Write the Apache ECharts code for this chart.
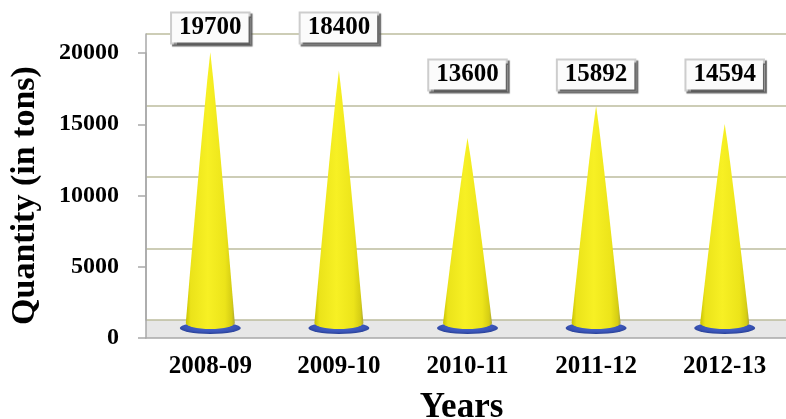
<!DOCTYPE html>
<html>
<head>
<meta charset="utf-8">
<script src="https://cdn.jsdelivr.net/npm/echarts@6/dist/echarts.min.js"></script>
<style>
html,body{margin:0;padding:0;background:#fff;}
#c{width:786px;height:419px;}
</style>
</head>
<body>
<div id="c"></div>
<script>
// ---- data ----
const categories = ['2008-09', '2009-10', '2010-11', '2011-12', '2012-13'];
const quantities = [19700, 18400, 13600, 15892, 14594];
const yMin = 0, yMax = 20000, yInterval = 5000;
const xTitle = 'Years';
const yTitle = 'Quantity (in tons)';

// ---- layout / styles ----
const FONT = '"Liberation Serif", "Times New Roman", serif';
const labelRowY = [28, 28, 75, 75, 75];
const gridLeft = 146, gridWidth = 643;
const BASE_CURVE_PX = 6;

// cone outline (symbol shape): near-straight sides and an elliptical base
// heightPx: pixel height of the bar, so the base curve keeps a fixed pixel depth
function conePath(heightPx) {
  const depth = heightPx ? 100 * BASE_CURVE_PX / heightPx : 2;
  const sideEnd = 100 - depth, steps = 10;
  const pts = [];
  for (let k = 0; k <= steps; k++) {
    const t = k / steps;
    pts.push([50 + 50 * Math.pow(t, 0.92), sideEnd * t]);
  }
  for (let k = 1; k < 16; k++) {
    const a = Math.PI * k / 16;
    pts.push([50 + 50 * Math.cos(a), sideEnd + depth * Math.sin(a)]);
  }
  for (let k = steps; k >= 1; k--) {
    const t = k / steps;
    pts.push([50 - 50 * Math.pow(t, 0.92), sideEnd * t]);
  }
  return 'path://M' + pts.map(p => p[0].toFixed(3) + ',' + p[1].toFixed(3)).join(' L') + ' Z';
}

const chart = echarts.init(document.getElementById('c'), null, {renderer: 'canvas'});

const coneGradient = new echarts.graphic.LinearGradient(0, 0, 1, 0, [
  {offset: 0, color: '#c9c200'},
  {offset: 0.1, color: '#ebe31a'},
  {offset: 0.45, color: '#f7f024'},
  {offset: 0.8, color: '#ece41a'},
  {offset: 0.94, color: '#d6ce14'},
  {offset: 1, color: '#aaa53a'}
]);
const baseGradient = new echarts.graphic.RadialGradient(0.5, 0.4, 0.6, [
  {offset: 0, color: '#4d6ad0'},
  {offset: 0.7, color: '#3a55b8'},
  {offset: 1, color: '#263d92'}
]);

const boxLabel = {
  show: true,
  fontFamily: FONT,
  fontWeight: 'bold',
  fontSize: 25,
  lineHeight: 25,
  color: '#000',
  backgroundColor: '#fbfbfb',
  borderColor: '#cdcdcd',
  borderWidth: 2,
  padding: [2, 7, 2, 7],
  shadowColor: 'rgba(80,80,80,0.85)',
  shadowOffsetX: 2,
  shadowOffsetY: 2,
  shadowBlur: 1,
  align: 'center',
  verticalAlign: 'middle',
  formatter: p => String(p.value)
};

function buildOption(geom) {
  return {
    animation: false,
    backgroundColor: '#fff',
    grid: [
      // 0: front axis (labels)
      {left: gridLeft, width: gridWidth, top: 53, height: 285, outerBoundsMode: 'none', containLabel: false},
      // 1: back wall
      {left: gridLeft, width: gridWidth, top: 34, height: 286, outerBoundsMode: 'none'},
      // 2: cones (mid depth)
      {left: gridLeft, width: gridWidth, top: 48, height: 281, outerBoundsMode: 'none'},
      // 3: floor
      {left: gridLeft, width: gridWidth, top: 320, height: 18, show: true, backgroundColor: '#e7e7e7', borderWidth: 0, outerBoundsMode: 'none'}
    ],
    xAxis: [
      {
        gridIndex: 0, type: 'category', data: categories,
        axisLine: {show: true, lineStyle: {color: '#a9a9a9', width: 1.5}},
        axisTick: {show: false},
        axisLabel: {fontFamily: FONT, fontWeight: 'bold', fontSize: 25, color: '#000', margin: 16},
        name: xTitle, nameLocation: 'middle', nameGap: 52,
        nameTextStyle: {fontFamily: FONT, fontWeight: 'bold', fontSize: 35, color: '#000', padding: [0, 12, 0, 0]}
      },
      {gridIndex: 1, type: 'category', data: categories, show: false},
      {gridIndex: 2, type: 'category', data: categories, show: false},
      {gridIndex: 3, type: 'category', data: categories, show: false}
    ],
    yAxis: [
      {
        gridIndex: 0, type: 'value', min: yMin, max: yMax, interval: yInterval,
        axisLine: {show: true, lineStyle: {color: '#a9a9a9', width: 1.5}},
        axisTick: {show: true, length: 8, lineStyle: {color: '#a9a9a9', width: 1.5}},
        splitLine: {show: false},
        axisLabel: {fontFamily: FONT, fontWeight: 'bold', fontSize: 24, color: '#000', margin: 27,
          formatter: v => String(v)},
        name: yTitle, nameLocation: 'middle', nameGap: 104, nameRotate: 90,
        nameTextStyle: {fontFamily: FONT, fontWeight: 'bold', fontSize: 34, color: '#000'}
      },
      {
        gridIndex: 1, type: 'value', min: yMin, max: yMax, interval: yInterval,
        axisLine: {show: true, lineStyle: {color: '#a9a9a9', width: 1.5}},
        axisTick: {show: false}, axisLabel: {show: false},
        splitLine: {show: true, lineStyle: {color: '#bcbc9e', width: 1.5}}
      },
      {gridIndex: 2, type: 'value', min: yMin, max: yMax, show: false, splitLine: {show: false}},
      {gridIndex: 3, type: 'value', min: 0, max: 1, show: false, splitLine: {show: false}}
    ],
    series: [
      {
        name: 'base', type: 'pictorialBar', xAxisIndex: 2, yAxisIndex: 2,
        data: quantities,
        symbol: 'circle', symbolSize: [61, 12], symbolPosition: 'start',
        symbolOffset: [0, '42%'],
        itemStyle: {color: baseGradient},
        z: 3, silent: true
      },
      {
        name: 'Quantity', type: 'pictorialBar', xAxisIndex: 2, yAxisIndex: 2,
        data: quantities.map((v, i) => ({
          value: v,
          symbol: conePath(geom ? geom.heights[i] : 0),
          label: Object.assign({}, boxLabel, {
            position: ['50%', geom ? geom.labelOffsets[i] : -20]
          })
        })),
        symbolSize: [49, '100%'],
        symbolPosition: 'start',
        itemStyle: {color: coneGradient},
        z: 4
      }
    ]
  };
}

chart.setOption(buildOption(null));
const geom = {heights: [], labelOffsets: []};
quantities.forEach((v, i) => {
  const top = chart.convertToPixel({xAxisIndex: 2, yAxisIndex: 2}, [i, v]);
  const base = chart.convertToPixel({xAxisIndex: 2, yAxisIndex: 2}, [i, 0]);
  geom.heights.push(base[1] - top[1]);
  geom.labelOffsets.push(labelRowY[i] - top[1]);
});
chart.setOption(buildOption(geom), true);
</script>
</body>
</html>
